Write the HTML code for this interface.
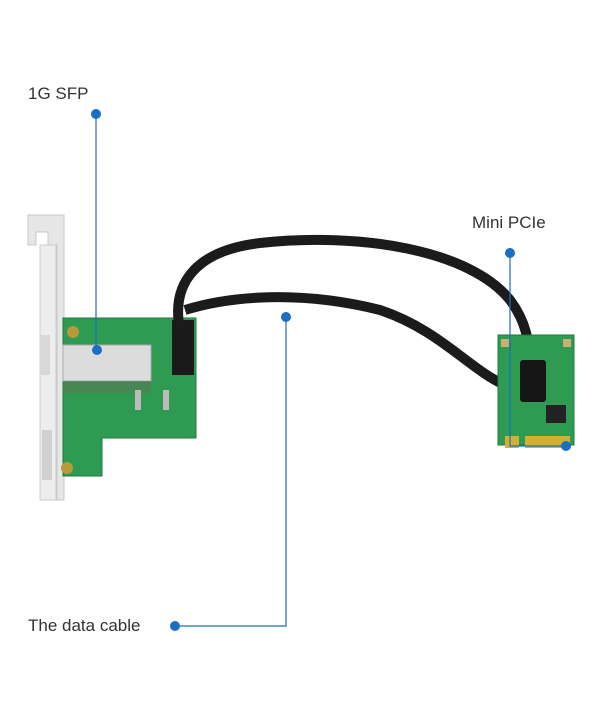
<!DOCTYPE html>
<html><head><style>
body{margin:0;background:#fff;}
.t{position:absolute;font-family:"Liberation Sans",sans-serif;font-size:17px;color:#333;}
</style></head><body>
<div style="position:relative;width:600px;height:720px;overflow:hidden">
<svg width="600" height="720" style="position:absolute;left:0;top:0">
<!-- bracket -->
<path d="M28 215 H64 V500 L57 500 V245 H48 V232 H36 V245 H28 Z" fill="#e6e6e6" stroke="#c8c8c8"/>
<rect x="40" y="245" width="16" height="255" fill="#ededed" stroke="#ccc"/>
<rect x="40" y="335" width="10" height="40" fill="#d8d8d8"/>
<rect x="42" y="430" width="10" height="50" fill="#d0d0d0"/>
<!-- PCB -->
<path d="M63 318 H196 V438 H102 V476 H63 Z" fill="#2e9a52" stroke="#1f7a3d"/>
<rect x="63" y="345" width="88" height="36" fill="#dcdcdc" stroke="#aaa"/>
<rect x="63" y="381" width="88" height="12" fill="#5a7a5a" opacity=".6"/>
<circle cx="73" cy="332" r="6" fill="#b89a3a"/><circle cx="67" cy="468" r="6" fill="#b89a3a"/>
<rect x="135" y="390" width="6" height="20" fill="#bbb"/><rect x="163" y="390" width="6" height="20" fill="#bbb"/>
<rect x="172" y="320" width="22" height="55" fill="#1a1a1a"/>
<!-- cables -->
<path d="M180 330 C170 280 200 250 260 243 C360 232 470 250 510 300 C525 320 530 340 530 370" stroke="#1b1b1b" stroke-width="10" fill="none"/>
<path d="M185 310 C230 296 300 290 380 310 C440 330 470 370 505 385" stroke="#1b1b1b" stroke-width="10" fill="none"/>
<!-- mini card -->
<rect x="498" y="335" width="76" height="110" fill="#2e9a52" stroke="#1f7a3d"/>
<rect x="505" y="436" width="14" height="12" fill="#d4b030"/><rect x="525" y="436" width="45" height="12" fill="#d4b030"/>
<rect x="520" y="360" width="26" height="42" rx="3" fill="#151515"/>
<rect x="546" y="405" width="20" height="18" fill="#222"/>
<rect x="501" y="339" width="8" height="8" fill="#c8b070"/><rect x="563" y="339" width="8" height="8" fill="#c8b070"/>
<!-- callouts -->
<g stroke="#1a6fc4" stroke-width="1.2" fill="none">
<path d="M96 114 V350"/><path d="M510 253 V446 H566"/><path d="M286 317 V626 H175"/>
</g>
<g fill="#1a6fc4">
<circle cx="96" cy="114" r="5"/><circle cx="97" cy="350" r="5"/>
<circle cx="510" cy="253" r="5"/><circle cx="566" cy="446" r="5"/>
<circle cx="286" cy="317" r="5"/><circle cx="175" cy="626" r="5"/>
</g>
</svg>
<div class="t" style="left:28px;top:84px">1G SFP</div>
<div class="t" style="left:472px;top:213px">Mini PCIe</div>
<div class="t" style="left:28px;top:616px">The data cable</div>
</div>
</body></html>
